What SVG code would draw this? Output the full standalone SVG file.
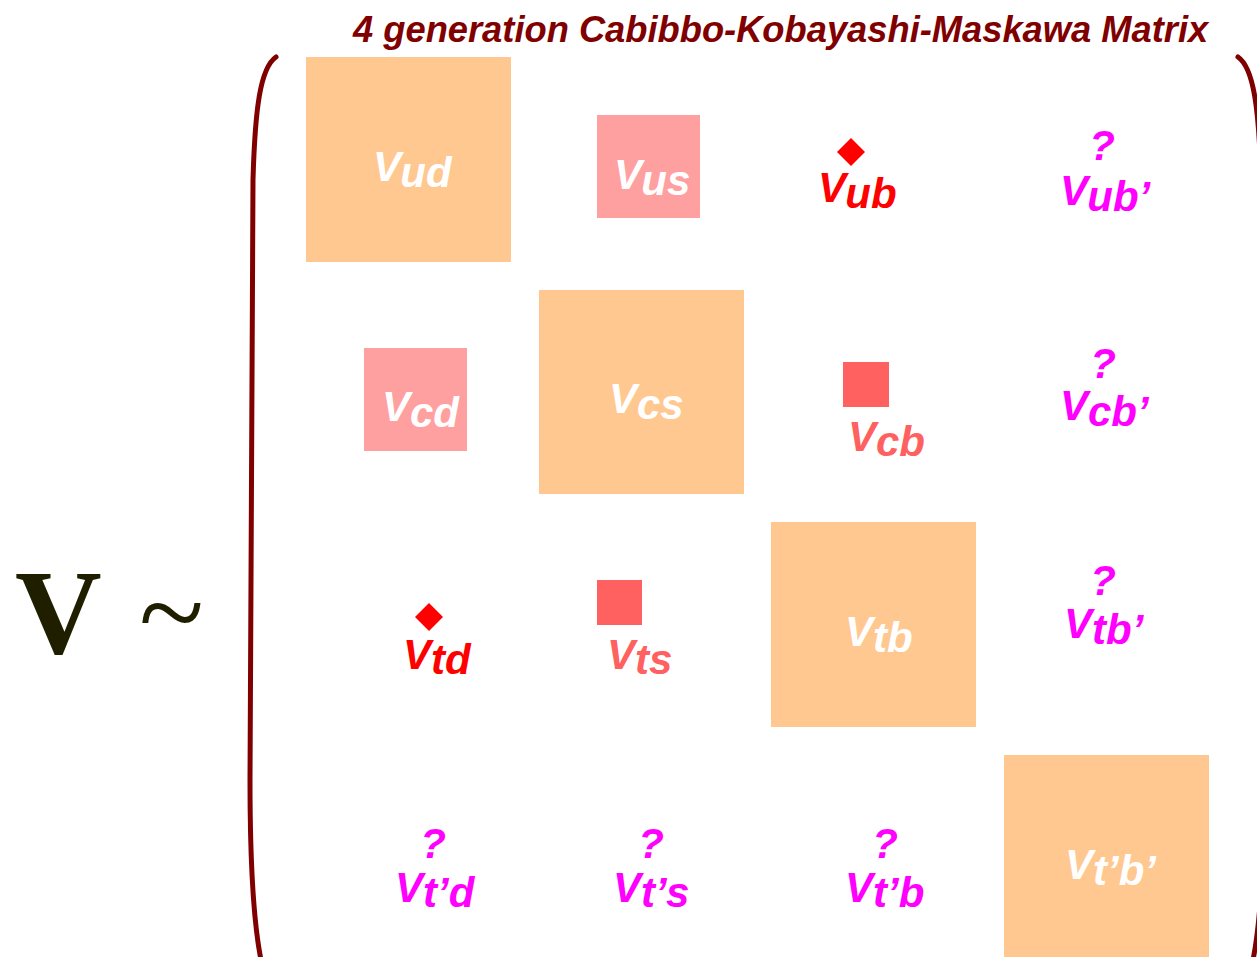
<svg xmlns="http://www.w3.org/2000/svg" width="1257" height="957" viewBox="0 0 1257 957">
<style>
.lbl{font-family:"Liberation Sans",Arial,sans-serif;font-weight:bold;font-style:italic;font-size:42px}
.w{fill:#ffffff}.r{fill:#ff0000}.m{fill:#ff00ff}.s{fill:#ff6060}
.big{fill:#ffc891}.pink{fill:#ffa0a0}.sq{fill:#ff6060}
.br{fill:none;stroke:#800000;stroke-width:5;stroke-linecap:round}
</style>
<rect width="1257" height="957" fill="#ffffff"/>
<text x="353" y="42" font-family="Liberation Sans, Arial, sans-serif" font-weight="bold" font-style="italic" font-size="36.3" fill="#800000">4 generation Cabibbo-Kobayashi-Maskawa Matrix</text>
<g id="lhs">
<text x="15" y="653" font-family="Liberation Serif, Times New Roman, serif" font-weight="bold" font-size="120" fill="#1f1f00">V</text>
<text x="139" y="653" font-family="Liberation Serif, Times New Roman, serif" font-size="120" fill="#1f1f00">~</text>
</g>
<g id="brackets">
<path class="br" d="M276,57 C260,68 255,110 253,180 L250,780 C250,880 255,930 261,960"/>
<path class="br" d="M1238,57 C1254,68 1259,110 1261,180 L1264,780 C1264,880 1259,930 1253,960"/>
</g>
<g id="Vud"><rect class="big" x="306" y="57" width="205" height="205"/><text class="lbl w" x="373" y="181">V<tspan dy="6">ud</tspan></text></g>
<g id="Vus"><rect class="pink" x="597" y="115" width="103" height="103"/><text class="lbl w" x="614" y="189">V<tspan dy="6">us</tspan></text></g>
<g id="Vub"><polygon class="r" points="851,138 865,152 851,166 837,152"/><text class="lbl r" x="818" y="202">V<tspan dy="6">ub</tspan></text></g>
<g id="Vubp"><text class="lbl m" x="1102" y="160" text-anchor="middle">?</text><text class="lbl m" x="1060" y="205">V<tspan dy="6">ub’</tspan></text></g>
<g id="Vcd"><rect class="pink" x="364" y="348" width="103" height="103"/><text class="lbl w" x="382" y="421">V<tspan dy="6">cd</tspan></text></g>
<g id="Vcs"><rect class="big" x="539" y="290" width="205" height="204"/><text class="lbl w" x="609" y="413">V<tspan dy="6">cs</tspan></text></g>
<g id="Vcb"><rect class="sq" x="843" y="362" width="46" height="45"/><text class="lbl s" x="848" y="451">V<tspan dy="5">cb</tspan></text></g>
<g id="Vcbp"><text class="lbl m" x="1103" y="378" text-anchor="middle">?</text><text class="lbl m" x="1060" y="420">V<tspan dy="6">cb’</tspan></text></g>
<g id="Vtd"><polygon class="r" points="429,603 443,617 429,631 415,617"/><text class="lbl r" x="403" y="669">V<tspan dy="5">td</tspan></text></g>
<g id="Vts"><rect class="sq" x="597" y="580" width="45" height="45"/><text class="lbl s" x="607" y="669">V<tspan dy="5">ts</tspan></text></g>
<g id="Vtb"><rect class="big" x="771" y="522" width="205" height="205"/><text class="lbl w" x="845" y="646">V<tspan dy="6">tb</tspan></text></g>
<g id="Vtbp"><text class="lbl m" x="1103" y="595" text-anchor="middle">?</text><text class="lbl m" x="1064" y="638">V<tspan dy="6">tb’</tspan></text></g>
<g id="Vtpd"><text class="lbl m" x="433" y="858" text-anchor="middle">?</text><text class="lbl m" x="395" y="902">V<tspan dy="5">t’d</tspan></text></g>
<g id="Vtps"><text class="lbl m" x="651" y="858" text-anchor="middle">?</text><text class="lbl m" x="613" y="902">V<tspan dy="5">t’s</tspan></text></g>
<g id="Vtpb"><text class="lbl m" x="885" y="858" text-anchor="middle">?</text><text class="lbl m" x="845" y="902">V<tspan dy="5">t’b</tspan></text></g>
<g id="Vtpbp"><rect class="big" x="1004" y="755" width="205" height="205"/><text class="lbl w" x="1065" y="879">V<tspan dy="6">t’b’</tspan></text></g>
</svg>
